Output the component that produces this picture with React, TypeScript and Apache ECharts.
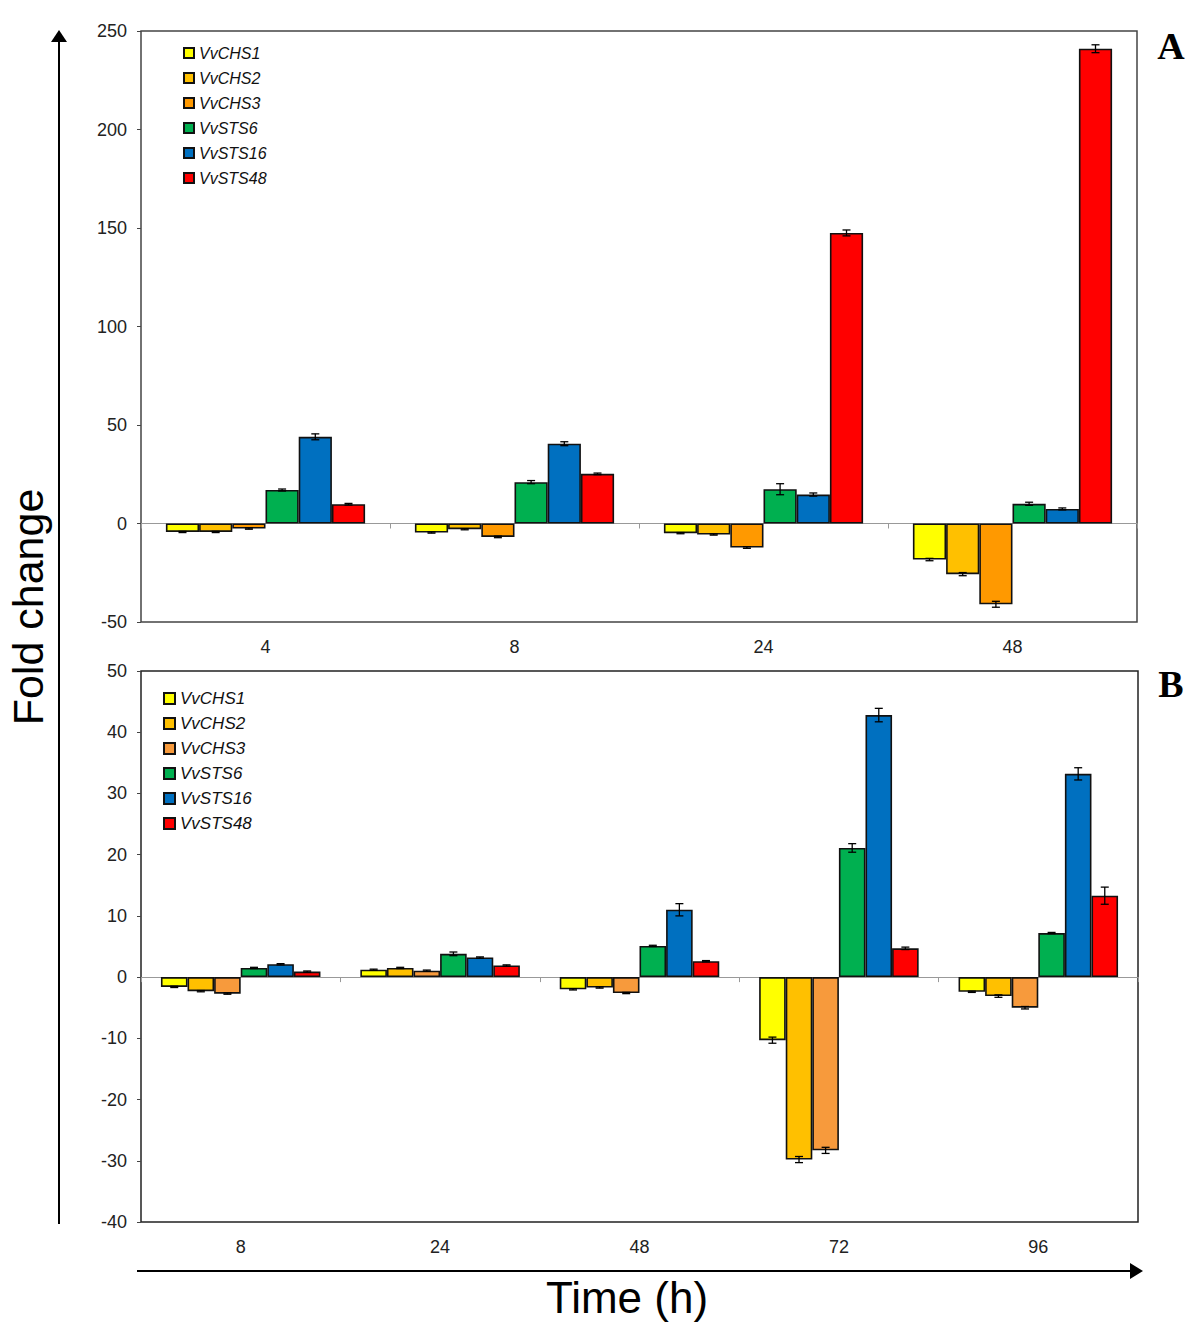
import React, { useEffect, useRef } from "react";
import * as echarts from "echarts";

const genes = ["VvCHS1", "VvCHS2", "VvCHS3", "VvSTS6", "VvSTS16", "VvSTS48"];
const colorsA = ["#FFFF00", "#FFC000", "#FF9900", "#00B050", "#0070C0", "#FF0000"];
const colorsB = ["#FFFF00", "#FFC000", "#F79A3C", "#00B050", "#0070C0", "#FF0000"];

const timesA = ["4", "8", "24", "48"];
const timesB = ["8", "24", "48", "72", "96"];

// Panel A values per gene (rows) across times (cols)
const A_CHS1 = [-4.3, -4.6, -4.9, -18.3];
const A_CHS2 = [-4.3, -2.9, -5.6, -25.7];
const A_CHS3 = [-2.6, -6.8, -12.2, -41];
const A_STS6 = [17, 21, 17.4, 10];
const A_STS16 = [44, 40.5, 14.7, 7.4];
const A_STS48 = [9.8, 25.2, 147.5, 241];

const A_CHS1_err = [0.3, 0.3, 0.3, 0.6];
const A_CHS2_err = [0.3, 0.3, 0.3, 0.8];
const A_CHS3_err = [0.3, 0.4, 0.4, 1.5];
const A_STS6_err = [0.5, 0.8, 2.8, 0.8];
const A_STS16_err = [1.5, 1.0, 0.8, 0.5];
const A_STS48_err = [0.4, 0.4, 1.5, 2.0];

// Panel B
const B_CHS1 = [-1.6, 1.2, -2.0, -10.3, -2.4];
const B_CHS2 = [-2.3, 1.5, -1.7, -29.8, -3.1];
const B_CHS3 = [-2.7, 1.05, -2.6, -28.3, -5.0];
const B_STS6 = [1.5, 3.8, 5.1, 21.1, 7.2];
const B_STS16 = [2.1, 3.2, 11.0, 42.8, 33.2];
const B_STS48 = [0.9, 1.9, 2.6, 4.7, 13.3];

const B_CHS1_err = [0.1, 0.1, 0.1, 0.5, 0.1];
const B_CHS2_err = [0.1, 0.1, 0.1, 0.5, 0.2];
const B_CHS3_err = [0.1, 0.1, 0.1, 0.5, 0.2];
const B_STS6_err = [0.1, 0.3, 0.1, 0.7, 0.1];
const B_STS16_err = [0.1, 0.1, 1.0, 1.1, 1.0];
const B_STS48_err = [0.1, 0.1, 0.1, 0.2, 1.4];

const yTicksA = { min: -50, max: 250, interval: 50 };
const yTicksB = { min: -40, max: 50, interval: 10 };

const valsA = [A_CHS1, A_CHS2, A_CHS3, A_STS6, A_STS16, A_STS48];
const errsA = [A_CHS1_err, A_CHS2_err, A_CHS3_err, A_STS6_err, A_STS16_err, A_STS48_err];
const valsB = [B_CHS1, B_CHS2, B_CHS3, B_STS6, B_STS16, B_STS48];
const errsB = [B_CHS1_err, B_CHS2_err, B_CHS3_err, B_STS6_err, B_STS16_err, B_STS48_err];

const CAT_GAP = 0.2;

function errorSeries(
  name: string,
  idx: number,
  vals: number[],
  errs: number[],
  xAxisIndex: number,
  yAxisIndex: number
) {
  const data = vals.map((v, i) => [i, v, errs[i]]);
  return {
    type: "custom",
    name: name + "_err",
    xAxisIndex,
    yAxisIndex,
    z: 5,
    silent: true,
    data,
    encode: { x: 0, y: 1 },
    renderItem: (params: any, api: any) => {
      const i = api.value(0);
      const v = api.value(1);
      const e = api.value(2);
      const band = api.size([1, 0])[0];
      const barW = (band * (1 - CAT_GAP)) / 6;
      const c = api.coord([i, v]);
      const cx = c[0] - (band * (1 - CAT_GAP)) / 2 + (idx + 0.5) * barW;
      const top = api.coord([i, v + e])[1];
      const bot = api.coord([i, v - e])[1];
      const cap = 4;
      const st = { stroke: "#000", lineWidth: 1.3 };
      return {
        type: "group",
        children: [
          { type: "line", shape: { x1: cx, y1: top, x2: cx, y2: bot }, style: st },
          { type: "line", shape: { x1: cx - cap, y1: top, x2: cx + cap, y2: top }, style: st },
          { type: "line", shape: { x1: cx - cap, y1: bot, x2: cx + cap, y2: bot }, style: st },
        ],
      };
    },
  };
}

export default function App() {
  const ref = useRef<HTMLDivElement>(null);
  useEffect(() => {
    document.body.style.margin = "0";
    if (!ref.current) return;
    const chart = echarts.init(ref.current, null, { renderer: "svg" });

    const axisLabel = { color: "#222", fontSize: 18, fontFamily: "Arial, Liberation Sans, sans-serif" };

    const series: any[] = [];
    genes.forEach((g, k) => {
      series.push({
        type: "bar",
        name: g,
        xAxisIndex: 0,
        yAxisIndex: 0,
        data: valsA[k],
        barGap: "0%",
        barCategoryGap: "20%",
        itemStyle: { color: colorsA[k], borderColor: "#111", borderWidth: 1.6 },
      });
    });
    genes.forEach((g, k) => {
      series.push({
        type: "bar",
        name: g + " ",
        xAxisIndex: 2,
        yAxisIndex: 1,
        data: valsB[k],
        barGap: "0%",
        barCategoryGap: "20%",
        itemStyle: { color: colorsB[k], borderColor: "#111", borderWidth: 1.6 },
      });
    });
    genes.forEach((g, k) => series.push(errorSeries(g + "A", k, valsA[k], errsA[k], 0, 0)));
    genes.forEach((g, k) => series.push(errorSeries(g + "B", k, valsB[k], errsB[k], 2, 1)));

    const legendText = {
      fontStyle: "italic",
      fontFamily: "Arial, Liberation Sans, sans-serif",
      color: "#111",
    };

    const option: any = {
      animation: false,
      backgroundColor: "#fff",
      grid: [
        { left: 141, top: 31, width: 996, height: 591, show: true, borderColor: "#444", borderWidth: 1.5, backgroundColor: "transparent" },
        { left: 141, top: 671, width: 997, height: 551, show: true, borderColor: "#222", borderWidth: 1.5, backgroundColor: "transparent" },
      ],
      legend: [
        {
          data: genes,
          orient: "vertical",
          left: 178,
          top: 40,
          icon: "rect",
          itemWidth: 10,
          itemHeight: 10,
          itemGap: 9,
          textStyle: { ...legendText, fontSize: 16 },
        },
        {
          data: genes.map((g) => g + " "),
          orient: "vertical",
          left: 158,
          top: 685,
          icon: "rect",
          itemWidth: 11,
          itemHeight: 11,
          itemGap: 8,
          textStyle: { ...legendText, fontSize: 17 },
        },
      ],
      xAxis: [
        {
          type: "category",
          gridIndex: 0,
          data: timesA,
          position: "bottom",
          axisLine: { show: false, onZero: false },
          axisTick: { show: false },
          axisLabel: { ...axisLabel, margin: 16 },
        },
        {
          type: "category",
          gridIndex: 0,
          data: timesA,
          position: "top",
          axisLine: { show: true, onZero: true, lineStyle: { color: "#999", width: 1 } },
          axisTick: { show: true, inside: true, length: 5, lineStyle: { color: "#999" } },
          axisLabel: { show: false },
        },
        {
          type: "category",
          gridIndex: 1,
          data: timesB,
          position: "bottom",
          axisLine: { show: false, onZero: false },
          axisTick: { show: false },
          axisLabel: { ...axisLabel, margin: 16 },
        },
        {
          type: "category",
          gridIndex: 1,
          data: timesB,
          position: "top",
          axisLine: { show: true, onZero: true, lineStyle: { color: "#999", width: 1 } },
          axisTick: { show: true, inside: true, length: 5, lineStyle: { color: "#999" } },
          axisLabel: { show: false },
        },
      ],
      yAxis: [
        {
          type: "value",
          gridIndex: 0,
          min: yTicksA.min,
          max: yTicksA.max,
          interval: yTicksA.interval,
          axisLine: { show: false },
          axisTick: { show: true, length: 4, lineStyle: { color: "#444" } },
          splitLine: { show: false },
          axisLabel: { ...axisLabel, margin: 14 },
        },
        {
          type: "value",
          gridIndex: 1,
          min: yTicksB.min,
          max: yTicksB.max,
          interval: yTicksB.interval,
          axisLine: { show: false },
          axisTick: { show: true, length: 4, lineStyle: { color: "#444" } },
          splitLine: { show: false },
          axisLabel: { ...axisLabel, margin: 14 },
        },
      ],
      series,
      graphic: [
        { type: "line", shape: { x1: 59, y1: 40, x2: 59, y2: 1224 }, style: { stroke: "#000", lineWidth: 2 } },
        { type: "polygon", shape: { points: [[51, 42], [67, 42], [59, 30]] }, style: { fill: "#000" } },
        { type: "line", shape: { x1: 137, y1: 1271, x2: 1132, y2: 1271 }, style: { stroke: "#000", lineWidth: 2 } },
        { type: "polygon", shape: { points: [[1130, 1263], [1130, 1279], [1143, 1271]] }, style: { fill: "#000" } },
        {
          type: "text",
          x: 28,
          y: 607,
          rotation: Math.PI / 2,
          style: {
            text: "Fold change",
            fontSize: 43,
            fontFamily: "Arial, Liberation Sans, sans-serif",
            fill: "#000",
            align: "center",
            verticalAlign: "middle",
          },
        },
        {
          type: "text",
          x: 627,
          y: 1297,
          style: {
            text: "Time (h)",
            fontSize: 44,
            fontFamily: "Arial, Liberation Sans, sans-serif",
            fill: "#000",
            align: "center",
            verticalAlign: "middle",
          },
        },
        {
          type: "text",
          x: 1171,
          y: 46,
          style: {
            text: "A",
            fontSize: 38,
            fontWeight: "bold",
            fontFamily: "Liberation Serif, DejaVu Serif, serif",
            fill: "#000",
            align: "center",
            verticalAlign: "middle",
          },
        },
        {
          type: "text",
          x: 1171,
          y: 684,
          style: {
            text: "B",
            fontSize: 38,
            fontWeight: "bold",
            fontFamily: "Liberation Serif, DejaVu Serif, serif",
            fill: "#000",
            align: "center",
            verticalAlign: "middle",
          },
        },
      ],
    };
    chart.setOption(option);
    return () => chart.dispose();
  }, []);
  return <div ref={ref} style={{ width: 1200, height: 1337 }} />;
}
